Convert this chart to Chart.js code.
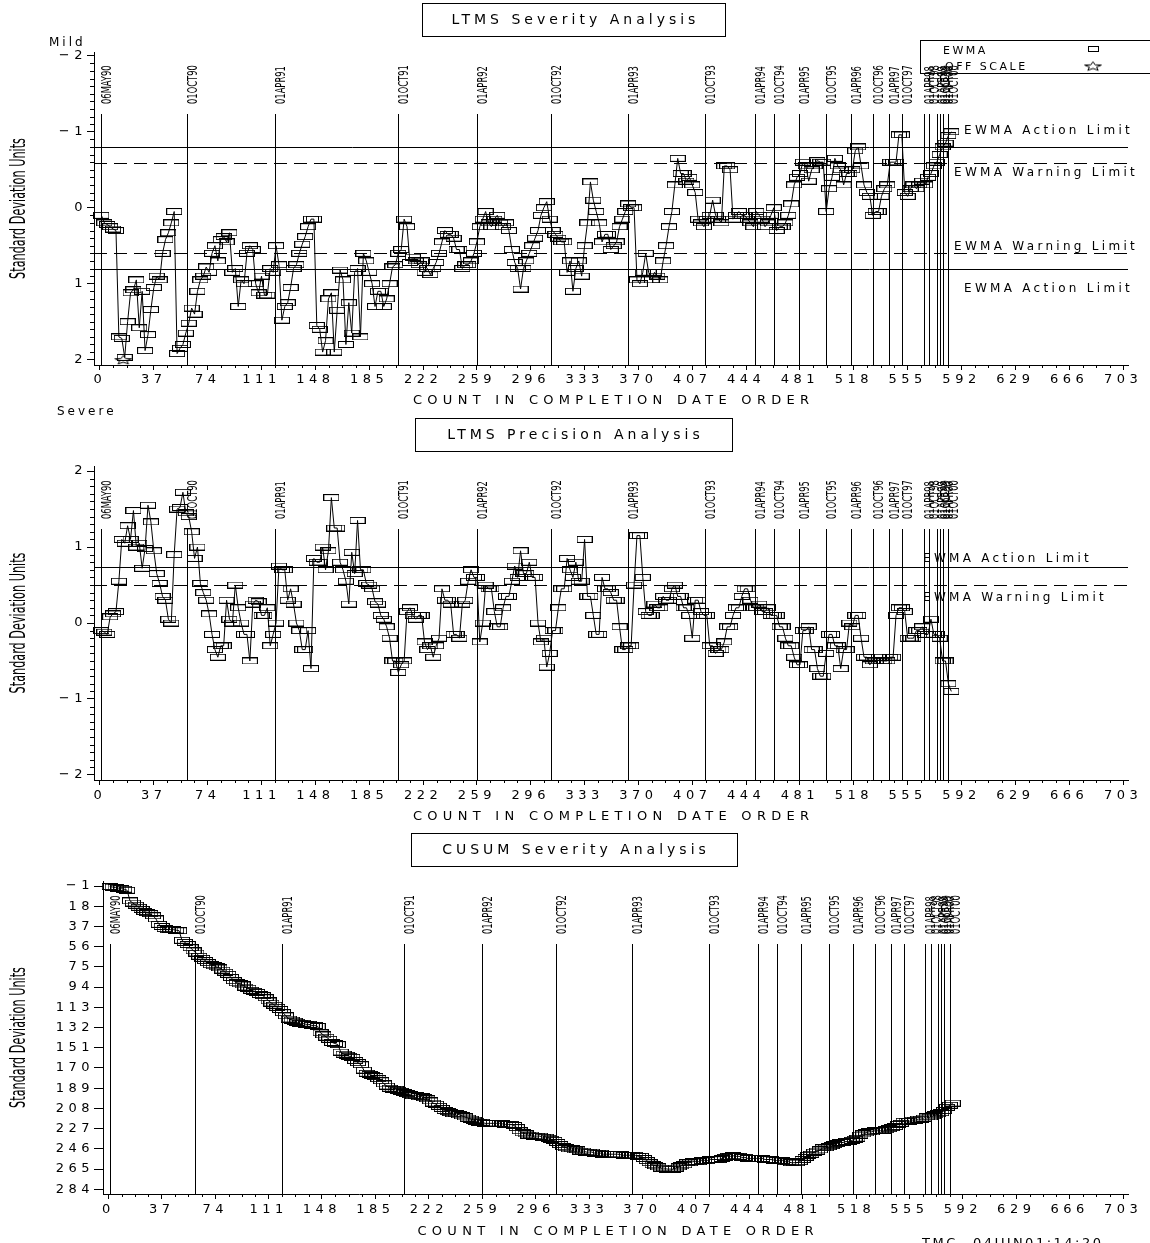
<!DOCTYPE html>
<html>
<head>
<meta charset="utf-8">
<script src="https://cdn.jsdelivr.net/npm/chart.js@4.4.1/dist/chart.umd.min.js"></script>
<style>
html, body { margin: 0; padding: 0; background: #fff; }
body { width: 1150px; height: 1243px; position: relative; overflow: hidden; }
canvas { position: absolute; left: 0; }
#sev { top: 0; }
#prec { top: 410px; }
#cusum { top: 826px; }
</style>
</head>
<body>
<canvas id="sev" width="1150" height="420"></canvas>
<canvas id="prec" width="1150" height="420"></canvas>
<canvas id="cusum" width="1150" height="417"></canvas>
<script>
// count in completion date order (every 2nd test)
const counts = [
  1,3,5,7,9,11,13,15,17,19, 21,23,25,27,29,31,33,35,37,39,
  41,43,45,47,49,51,53,55,57,59, 61,63,65,67,69,71,73,75,77,79,
  81,83,85,87,89,91,93,95,97,99, 101,103,105,107,109,111,113,115,117,119,
  121,123,125,127,129,131,133,135,137,139, 141,143,145,147,149,151,153,155,157,159,
  161,163,165,167,169,171,173,175,177,179, 181,183,185,187,189,191,193,195,197,199,
  201,203,205,207,209,211,213,215,217,219, 221,223,225,227,229,231,233,235,237,239,
  241,243,245,247,249,251,253,255,257,259, 261,263,265,267,269,271,273,275,277,279,
  281,283,285,287,289,291,293,295,297,299, 301,303,305,307,309,311,313,315,317,319,
  321,323,325,327,329,331,333,335,337,339, 341,343,345,347,349,351,353,355,357,359,
  361,363,365,367,369,371,373,375,377,379, 381,383,385,387,389,391,393,395,397,399,
  401,403,405,407,409,411,413,415,417,419, 421,423,425,427,429,431,433,435,437,439,
  441,443,445,447,449,451,453,455,457,459, 461,463,465,467,469,471,473,475,477,479,
  481,483,485,487,489,491,493,495,497,499, 501,503,505,507,509,511,513,515,517,519,
  521,523,525,527,529,531,533,535,537,539, 541,543,545,547,549,551,553,555,557,559,
  561,563,565,567,569,571,573,575,577,579, 581,583,585
];

// EWMA severity (standard deviation units)
const severity = [
  0.10,0.20,0.22,0.25,0.28,0.30,1.70,1.72,1.97,1.50,
  1.12,1.08,0.95,1.58,1.10,1.88,1.67,1.34,1.05,0.90,
  0.95,0.60,0.42,0.33,0.20,0.05,1.92,1.85,1.80,1.65,
  1.52,1.32,1.40,1.10,0.95,0.90,0.78,0.85,0.60,0.50,
  0.70,0.42,0.38,0.45,0.33,0.85,0.80,1.30,0.95,1.00,
  0.60,0.50,0.55,1.00,1.12,0.90,1.15,1.15,0.80,0.85,
  0.50,0.75,1.48,1.30,1.25,1.05,0.80,0.75,0.60,0.48,
  0.38,0.25,0.15,0.15,1.55,1.60,1.90,1.75,1.20,1.12,
  1.90,1.35,0.82,0.95,1.80,1.25,1.65,0.85,0.80,1.70,
  0.60,0.70,0.85,1.00,1.30,1.10,1.10,1.30,1.20,1.00,
  0.78,0.75,0.60,0.55,0.15,0.25,0.72,0.65,0.70,0.75,
  0.70,0.85,0.80,0.88,0.80,0.72,0.60,0.45,0.30,0.35,
  0.35,0.40,0.55,0.55,0.80,0.75,0.75,0.70,0.60,0.45,
  0.25,0.15,0.05,0.20,0.25,0.15,0.10,0.20,0.25,0.20,
  0.30,0.55,0.72,0.80,1.07,0.80,0.70,0.60,0.50,0.40,
  0.30,0.10,0.00,-0.08,0.15,0.30,0.35,0.40,0.45,0.45,
  0.85,0.70,1.10,0.80,0.70,0.90,0.50,0.20,-0.34,-0.10,
  0.05,0.20,0.45,0.35,0.35,0.55,0.50,0.45,0.25,0.15,
  0.05,-0.05,0.00,0.00,0.95,1.00,0.85,0.60,0.85,0.95,
  0.85,0.90,0.95,0.70,0.50,0.25,0.05,-0.30,-0.65,-0.45,
  -0.45,-0.35,-0.40,-0.30,-0.20,0.15,0.20,0.25,0.15,0.10,
  -0.10,0.10,0.15,0.20,-0.55,-0.55,-0.50,0.15,0.10,0.05,
  0.10,0.10,0.15,0.20,0.25,0.05,0.10,0.15,0.25,0.20,
  0.10,0.00,0.30,0.25,0.25,0.20,0.10,-0.05,-0.30,-0.40,
  -0.45,-0.60,-0.55,-0.35,-0.50,-0.55,-0.62,-0.60,-0.60,0.05,
  -0.25,-0.40,-0.65,-0.55,-0.50,-0.30,-0.45,-0.45,-0.50,-0.75,
  -0.80,-0.55,-0.30,-0.20,-0.15,0.10,0.05,0.05,-0.15,-0.25,
  -0.30,-0.60,-0.60,-0.60,-0.96,-0.96,-0.20,-0.15,-0.25,-0.30,
  -0.25,-0.30,-0.35,-0.30,-0.40,-0.45,-0.55,-0.60,-0.70,-0.80,
  -0.85,-0.95,-1.00
];
const offScaleCounts = [16];
const offScaleValues = [2.0];

// EWMA precision
const precision = [
  -0.10,-0.12,-0.15,0.08,0.12,0.15,0.55,1.10,1.05,1.28,
  1.10,1.48,1.00,1.05,0.72,0.98,1.55,1.33,0.95,0.65,
  0.52,0.35,0.30,0.05,0.00,0.90,1.50,1.52,1.72,1.45,
  1.40,1.20,0.85,1.00,0.52,0.40,0.30,0.12,-0.15,-0.35,
  -0.45,-0.30,-0.30,0.30,0.05,0.00,0.50,0.20,0.00,-0.15,
  -0.15,-0.50,0.25,0.30,0.28,0.10,0.10,0.20,-0.30,-0.15,
  0.00,0.75,0.70,0.70,0.30,0.45,0.25,0.00,-0.10,-0.35,
  -0.35,-0.10,-0.60,0.85,0.80,0.80,1.00,0.70,0.95,1.65,
  1.25,1.25,0.80,0.70,0.55,0.25,0.93,0.65,1.35,0.70,
  0.70,0.52,0.50,0.45,0.28,0.25,0.10,0.05,-0.05,-0.20,
  -0.50,-0.50,-0.65,-0.55,-0.50,0.15,0.20,0.10,0.05,0.10,
  0.10,-0.25,-0.35,-0.30,-0.45,-0.30,-0.20,0.45,0.30,0.30,
  0.25,-0.15,-0.15,-0.20,0.25,0.30,0.55,0.70,0.60,0.60,
  -0.25,0.00,0.50,0.45,0.45,0.15,-0.05,-0.05,0.20,0.35,
  0.35,0.55,0.75,0.60,0.95,0.65,0.65,0.80,0.60,0.60,
  0.00,-0.25,-0.20,-0.58,-0.40,-0.10,-0.10,0.20,0.45,0.45,
  0.85,0.70,0.60,0.80,0.55,0.55,1.10,0.35,0.35,0.10,
  -0.15,-0.15,0.60,0.45,0.45,0.40,0.30,0.30,-0.05,-0.35,
  -0.35,-0.30,-0.30,0.50,1.15,1.15,0.60,0.15,0.10,0.10,
  0.25,0.20,0.20,0.35,0.30,0.30,0.45,0.50,0.35,0.35,
  0.20,0.20,0.10,-0.20,0.30,0.30,0.15,0.10,0.10,-0.30,
  -0.30,-0.40,-0.35,-0.35,-0.25,-0.05,-0.05,0.10,0.20,0.20,
  0.35,0.45,0.45,0.30,0.20,0.20,0.25,0.15,0.15,0.20,
  0.10,0.10,0.10,-0.05,-0.05,-0.20,-0.30,-0.30,-0.45,-0.55,
  -0.55,-0.10,-0.10,-0.05,-0.35,-0.35,-0.60,-0.70,-0.70,-0.40,
  -0.15,-0.15,-0.30,-0.30,-0.60,-0.35,-0.35,0.00,-0.05,0.10,
  0.10,-0.20,-0.45,-0.45,-0.55,-0.50,-0.50,-0.45,-0.50,-0.50,
  -0.50,-0.45,-0.45,0.10,0.20,0.20,0.15,-0.20,-0.20,-0.20,
  -0.10,-0.10,-0.05,-0.15,-0.15,0.05,-0.15,-0.15,-0.20,-0.50,
  -0.50,-0.80,-0.90
];

// CUSUM severity
const cusum = [
  -0.5,0,0.5,1,1.5,2,3,13,15,17,
  19,21,23,24,25,27,30,35,37,39,
  40,40,40,40.5,41,50,52,54,57,60,
  62,65,67,69,71,73,74,75,76,78,
  80,82,85,88,90,91,92,94,95,97,
  98,99,101,102,104,107,109,111,113,115,
  118,121,124,125,126,127,128,128,129,129,
  130,130,131,137,139,141,143,146,147,148,
  155,157,158,159,160,163,165,167,172,175,
  176,177,178,180,182,185,187,189,190,190,
  191,192,193,194,195,196,196,197,197,198,
  199,201,203,204,206,208,210,211,212,213,
  213,214,215,216,217,218,219,220,221,221,
  222,222,222,222,222,222,222.5,223,223,223,
  224,226,229,231,232,233,233,234,234,234,
  235,235,236,237,238,240,242,244,245,246,
  246,247,247,248,248,249,249,249,250,250,
  250,251,251,251,251,251,251,251.5,252,252,
  252,252,252,253,253,255,257,259,261,262,
  263,264,264,265,265,265,264,263,262,261,
  259,259,258,258,258,257,257,257,256,256,
  256,256,255,254,253,253,252.5,253,253,254,
  254,255,255,255,255,255,255,256,256,256,
  256.5,257,257,257,258,258,259,259,259,258,
  256,254,252,251,249,248,247,245,245,244,
  243,242,241,240,240,239,239,238,237,236,
  233,232,231,230,230,229,229,229,228.5,228,
  227,226,225,223,222,220,220,220,219,219,
  218,218,217,216,216,215,214,213,212,210,
  207,205,203
];

// reference dates (count where each period starts)
const dateLabels = ['06MAY90','01OCT90','01APR91','01OCT91','01APR92','01OCT92','01APR93','01OCT93',
  '01APR94','01OCT94','01APR95','01OCT95','01APR96','01OCT96','01APR97','01OCT97',
  '01APR98','01OCT98','01APR99','01OCT99','01APR00','01OCT00'];
const dateCounts = [1,60,120,205,259,310,363,416,450,463,480,499,516,531,542,551,566,570,575,577,579,583];

const xTicks = [0,37,74,111,148,185,222,259,296,333,370,407,444,481,518,555,592,629,666,703];
const ewmaTicks = [-2,-1,0,1,2];
const cusumTicks = [-1,18,37,56,75,94,113,132,151,170,189,208,227,246,265,284];

const sevLimits = [-0.8, -0.59, 0.59, 0.8];
const precLimits = [0.74, 0.5];
const seriesNames = ['EWMA', 'OFF SCALE'];

// marker images
function boxMark(w, h) {
  const c = document.createElement('canvas');
  c.width = w; c.height = h;
  const g = c.getContext('2d');
  g.strokeStyle = '#000'; g.lineWidth = 1;
  g.strokeRect(0.5, 0.5, w - 1, h - 1);
  return c;
}
function starMark() {
  const c = document.createElement('canvas');
  c.width = 20; c.height = 11;
  const g = c.getContext('2d');
  g.strokeStyle = '#000'; g.lineWidth = 1;
  g.beginPath();
  for (let k = 0; k < 10; k++) {
    const r = k % 2 ? 2.2 : 5.2;
    const ang = -Math.PI / 2 + k * Math.PI / 5;
    const px = 10 + Math.cos(ang) * r * 1.7;
    const py = 6 + Math.sin(ang) * r * 0.9;
    if (k) g.lineTo(px, py); else g.moveTo(px, py);
  }
  g.closePath(); g.stroke();
  return c;
}
const box = boxMark(16, 7);
const star = starMark();

function txt(ctx, s, x, y, size, sp, align) {
  ctx.save();
  ctx.font = size + 'px "DejaVu Sans"';
  ctx.letterSpacing = sp + 'px';
  ctx.textAlign = align || 'left';
  ctx.textBaseline = 'middle';
  ctx.fillStyle = '#000';
  ctx.fillText(s, align === 'center' ? x + sp / 2 : x, y);
  ctx.restore();
}
function narrow(ctx, s, x, y, size, stretch, align, base) {
  ctx.save();
  ctx.translate(x, y);
  ctx.rotate(-Math.PI / 2);
  ctx.scale(1, stretch);
  ctx.font = size + 'px "Liberation Sans Narrow", "DejaVu Sans Condensed", sans-serif';
  ctx.letterSpacing = '0px';
  ctx.textAlign = align;
  ctx.textBaseline = base;
  ctx.fillStyle = '#000';
  ctx.fillText(s, 0, 0);
  ctx.restore();
}

// per chart decoration
const decorCfg = {
  sev: {
    title: 'LTMS Severity Analysis', box: [422, 3, 725, 36],
    lineTop: 114, labelBottom: 104, xTitleY: 401, yMinor: true,
    limits: sevLimits, dashed: [false, true, true, false],
    limitText: [['EWMA Action Limit', 964, 131], ['EWMA Warning Limit', 954, 173],
                ['EWMA Warning Limit', 954, 247], ['EWMA Action Limit', 964, 289]],
    notes: [['Mild', 49, 43, 12, 3], ['Severe', 57, 412, 12, 3]],
    legend: true
  },
  prec: {
    title: 'LTMS Precision Analysis', box: [415, 8, 732, 41],
    lineTop: 119, labelBottom: 109, xTitleY: 407, yMinor: true,
    limits: precLimits, dashed: [false, true],
    limitText: [['EWMA Action Limit', 923, 149], ['EWMA Warning Limit', 923, 188]],
    notes: []
  },
  cusum: {
    title: 'CUSUM Severity Analysis', box: [411, 7, 737, 40],
    lineTop: 118, labelBottom: 108, xTitleY: 406, yMinor: false,
    limits: [], dashed: [], limitText: [],
    notes: [['TMC', 922, 418, 13, 2.5], ['04JUN01:14:20', 973, 418, 13, 2.5]]
  }
};

const decor = {
  id: 'decor',
  beforeDraw(chart) {
    chart.ctx.letterSpacing = '4.5px';
  },
  beforeDatasetsDraw(chart) {
    const d = decorCfg[chart.canvas.id];
    const {ctx, chartArea: a, scales: {x, y}} = chart;
    ctx.save();
    ctx.strokeStyle = '#000';
    ctx.lineWidth = 1;
    dateCounts.forEach(c => {
      const px = Math.round(x.getPixelForValue(c)) + 0.5;
      ctx.beginPath(); ctx.moveTo(px, d.lineTop); ctx.lineTo(px, a.bottom); ctx.stroke();
    });
    d.limits.forEach((v, i) => {
      const py = Math.round(y.getPixelForValue(v)) + 0.5;
      ctx.setLineDash(d.dashed[i] ? [13, 7] : []);
      ctx.beginPath(); ctx.moveTo(a.left, py); ctx.lineTo(a.right, py); ctx.stroke();
    });
    ctx.setLineDash([]);
    // minor ticks
    ctx.beginPath();
    for (let k = 1; k <= 76; k++) {
      if (k % 4 === 0) continue;
      const px = Math.round(x.getPixelForValue(k * 9.25)) + 0.5;
      ctx.moveTo(px, a.bottom); ctx.lineTo(px, a.bottom + 3);
    }
    if (d.yMinor) {
      for (let k = -19; k <= 19; k++) {
        if (k % 10 === 0) continue;
        const py = Math.round(y.getPixelForValue(k / 10)) + 0.5;
        ctx.moveTo(a.left - 4, py); ctx.lineTo(a.left, py);
      }
    }
    ctx.stroke();
    ctx.restore();
  },
  afterDraw(chart) {
    const d = decorCfg[chart.canvas.id];
    const {ctx, chartArea: a, scales: {x}} = chart;
    ctx.save();
    ctx.strokeStyle = '#000';
    ctx.lineWidth = 1;
    const [bx1, by1, bx2, by2] = d.box;
    ctx.strokeRect(bx1 + 0.5, by1 + 0.5, bx2 - bx1, by2 - by1);
    txt(ctx, d.title, (bx1 + bx2) / 2, (by1 + by2) / 2 + 0.5, 14, 4, 'center');
    dateLabels.forEach((s, i) => {
      const px = Math.round(x.getPixelForValue(dateCounts[i])) + 0.5;
      narrow(ctx, s, px + 9.5, d.labelBottom, 9.3, 1.5, 'left', 'alphabetic');
    });
    d.limitText.forEach(t => txt(ctx, t[0], t[1], t[2], 12, 3.3));
    txt(ctx, 'COUNT IN COMPLETION DATE ORDER', (a.left + a.right) / 2, d.xTitleY, 13, 5.3, 'center');
    narrow(ctx, 'Standard Deviation Units', 20, (a.top + a.bottom) / 2, 12.5, 1.65, 'center', 'middle');
    d.notes.forEach(t => txt(ctx, t[0], t[1], t[2], t[3], t[4]));
    if (d.legend) {
      ctx.strokeRect(920.5, 40.5, 240, 33);
      txt(ctx, seriesNames[0], 943, 51, 11, 2.5);
      txt(ctx, seriesNames[1], 945, 67, 11, 2.5);
      ctx.strokeRect(1088.5, 46.5, 10, 5);
      ctx.drawImage(star, 1093 - star.width / 2, 66 - star.height / 2);
    }
    ctx.restore();
  }
};

function minusLabel(v) {
  return v < 0 ? '\u2212' + Math.abs(v) : String(v);
}

function makeChart(id, opt) {
  return new Chart(document.getElementById(id), {
    type: 'line',
    data: {datasets: opt.datasets},
    options: {
      responsive: false,
      animation: false,
      events: [],
      layout: {padding: {top: opt.top, right: 22, bottom: 0, left: 0}},
      plugins: {legend: {display: false}, tooltip: {enabled: false}},
      scales: {
        x: {
          type: 'linear', min: opt.xMin, max: 706.4,
          afterBuildTicks: s => { s.ticks = xTicks.map(v => ({value: v})); },
          afterFit: s => { s.height = opt.xHeight; },
          grid: {drawOnChartArea: false, color: '#000', tickLength: 5},
          border: {color: '#000'},
          ticks: {color: '#000', font: {family: 'DejaVu Sans', size: 13}, maxRotation: 0, autoSkip: false, padding: opt.xPad}
        },
        y: {
          type: 'linear', reverse: opt.reverse, min: opt.yMin, max: opt.yMax,
          afterBuildTicks: s => { s.ticks = opt.yTicks.map(v => ({value: v})); },
          afterFit: s => { s.width = opt.yWidth; },
          grid: {drawOnChartArea: false, color: '#000', tickLength: opt.yTick},
          border: {color: '#000'},
          ticks: {color: '#000', font: {family: 'DejaVu Sans', size: 13}, autoSkip: false, padding: 0, callback: minusLabel}
        }
      }
    },
    plugins: [decor]
  });
}

function series(label, ys, xs, mark) {
  return {
    label: label,
    data: (xs || counts).map((c, i) => ({x: c, y: ys[i]})),
    borderColor: '#000', backgroundColor: '#000', borderWidth: 1,
    pointStyle: mark || box, pointRadius: 4, tension: 0, clip: false,
    showLine: !xs
  };
}

makeChart('sev', {
  top: 52, xHeight: 55, xPad: 2, xMin: -4.1, yWidth: 94, yTick: 7,
  reverse: true, yMin: -2.05, yMax: 2.07, yTicks: ewmaTicks,
  datasets: [series(seriesNames[0], severity), series(seriesNames[1], offScaleValues, offScaleCounts, star)]
});
makeChart('prec', {
  top: 56, xHeight: 50, xPad: 3, xMin: -4.1, yWidth: 94, yTick: 7,
  reverse: false, yMin: -2.066, yMax: 2.066, yTicks: ewmaTicks,
  datasets: [series(seriesNames[0], precision)]
});
makeChart('cusum', {
  top: 55, xHeight: 49, xPad: 3, xMin: -3.7, yWidth: 103, yTick: 9,
  reverse: true, yMin: -5.7, yMax: 288.4, yTicks: cusumTicks,
  datasets: [series('CUSUM', cusum)]
});
</script>
</body>
</html>
